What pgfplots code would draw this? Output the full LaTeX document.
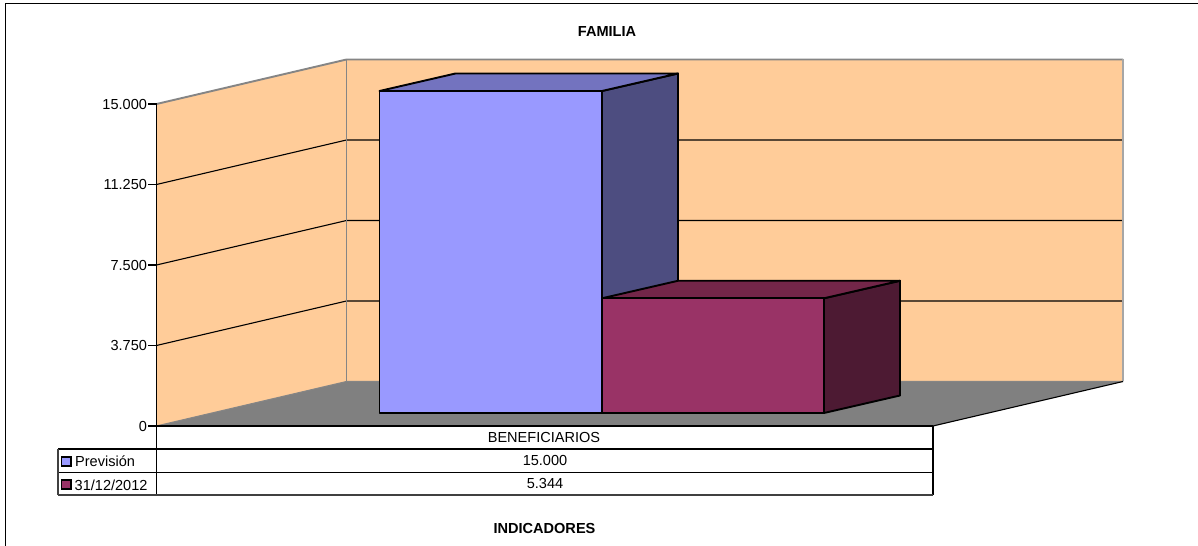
\documentclass[border=0pt]{standalone}
\usepackage{fontspec}
\setmainfont{Liberation Sans}
\usepackage{pgfplots}
\pgfplotsset{compat=1.18}
\definecolor{wall}{HTML}{FFCC99}
\definecolor{floorc}{HTML}{808080}
\definecolor{edgec}{HTML}{858585}
\definecolor{blueF}{HTML}{9999FF}
\definecolor{blueT}{HTML}{7373BF}
\definecolor{blueS}{HTML}{4D4D80}
\definecolor{marF}{HTML}{993366}
\definecolor{marT}{HTML}{732649}
\definecolor{marS}{HTML}{4D1A33}
% 1 px = 46.584 value units; bars stand 13 px in front of the axis plane line,
% depth d=1 moves 76 px right and 17.5 px up
\pgfplotsset{
  table/oblique/.style={
    x expr=\thisrow{x}+76*\thisrow{d},
    y expr=\thisrow{v}+(13+17.5*\thisrow{d})*46.584},
}
\tikzset{
  bar/.style={draw=black,line width=1.9bp,line join=round},
  fnt/.style={font=\fontsize{14.6}{16}\selectfont},
}
\newcommand{\px}[2]{({#1*1bp},{(546-#2)*1bp})}
\begin{document}
\begin{tikzpicture}
\useasboundingbox (0,0) rectangle (1198bp,546bp);
\begin{axis}[
  at={(0,0)},anchor=south west,
  scale only axis,width=1198bp,height=546bp,
  xmin=0,xmax=1198,
  ymin=-5590.1,ymax=19844.8,
  hide axis,clip=false]
% left wall, back wall, floor
\addplot[fill=wall,draw=none] coordinates {(156.5,0)(346.5,2073)(346.5,17073)(156.5,15000)} --cycle;
\addplot[fill=wall,draw=none] coordinates {(346.5,2073)(1123,2073)(1123,17073)(346.5,17073)} --cycle;
\addplot[fill=floorc,draw=none] coordinates {(156.5,0)(346.5,2073)(1123,2073)(933,0)} --cycle;
% gridlines
\addplot[black,line width=1.1bp] coordinates {(156.5,3750)(346.5,5823)(1123,5823)};
\addplot[black,line width=1.1bp] coordinates {(156.5,7500)(346.5,9573)(1123,9573)};
\addplot[black,line width=1.1bp] coordinates {(156.5,11250)(346.5,13323)(1123,13323)};
% wall edges
\addplot[edgec,line width=1.9bp] coordinates {(156.5,15000)(346.5,17073)(1123,17073)};
\addplot[edgec,line width=1.9bp] coordinates {(346.5,17073)(346.5,2073)};
\addplot[edgec,line width=1.1bp] coordinates {(156.5,0)(346.5,2073)(1123,2073)};
\addplot[gray!70,line width=1.9bp] coordinates {(1123,17073)(1123,2073)};
\addplot[black,line width=1.1bp] coordinates {(933,0)(1123,2073)};
% bar Prevision = 15000
\addplot[bar,fill=blueS] table[oblique] {
x d v
602 0 0
602 1 0
602 1 15000
602 0 15000
} --cycle;
\addplot[bar,fill=blueT] table[oblique] {
x d v
379.5 0 15000
602 0 15000
602 1 15000
379.5 1 15000
} --cycle;
\addplot[bar,fill=blueF] table[oblique] {
x d v
379.5 0 0
602 0 0
602 0 15000
379.5 0 15000
} --cycle;
% bar 31/12/2012 = 5344
\addplot[bar,fill=marS] table[oblique] {
x d v
824 0 0
824 1 0
824 1 5344
824 0 5344
} --cycle;
\addplot[bar,fill=marT] table[oblique] {
x d v
602 0 5344
824 0 5344
824 1 5344
602 1 5344
} --cycle;
\addplot[bar,fill=marF] table[oblique] {
x d v
602 0 0
824 0 0
824 0 5344
602 0 5344
} --cycle;
\end{axis}
% value axis with its ticks
\begin{axis}[
  at={(156.5bp,120bp)},anchor=south west,
  scale only axis,width=776.5bp,height=322bp,
  xmin=0,xmax=1,ymin=0,ymax=15000,
  axis y line=left,axis line style={-,black,line width=1.2bp},
  hide x axis,
  ytick={0,3750,7500,11250,15000},
  tick align=outside,
  major tick length=8bp,
  tick style={black,line width=1.1bp},
  yticklabel style={fnt,xshift=2bp},
  /pgf/number format/fixed,
  /pgf/number format/1000 sep={.},
  /pgf/number format/assume math mode=true,
  scaled y ticks=false,
]
\end{axis}
% frame
\draw[black,line width=1.2bp] \px{5.5}{546} -- \px{5.5}{3.5} -- \px{1198}{3.5};
% data table
\draw[black,line width=1.2bp] \px{156.5}{426} -- \px{156.5}{495};
\draw[black,line width=1.9bp] \px{156.5}{426} -- \px{933}{426};
\draw[black,line width=1.1bp] \px{933}{426} -- \px{933}{495};
\draw[black,line width=1.1bp] \px{58}{449} -- \px{933}{449};
\draw[black,line width=1.1bp] \px{58}{472.3} -- \px{933}{472.3};
\draw[black!75,line width=1.2bp] \px{58}{495} -- \px{933}{495};
\draw[black!75,line width=1.2bp] \px{58}{449} -- \px{58}{495};
% legend keys
\draw[black,line width=1.2bp,fill=blueF] \px{61.5}{457} rectangle \px{71}{466};
\draw[black,line width=1.2bp,fill=marF] \px{61.5}{480} rectangle \px{71}{489};
% texts
\node[fnt,inner sep=0,anchor=base] at \px{607}{37} {\textbf{FAMILIA}};
\node[fnt,inner sep=0,anchor=base] at \px{544.5}{533} {\textbf{INDICADORES}};
\node[fnt,inner sep=0,anchor=base] at \px{544}{442} {BENEFICIARIOS};
\node[fnt,inner sep=0,anchor=base] at \px{545}{465.5} {15.000};
\node[fnt,inner sep=0,anchor=base] at \px{545}{488.5} {5.344};
\node[fnt,inner sep=0,anchor=base west] at \px{75}{466.5} {Previsión};
\node[fnt,inner sep=0,anchor=base west] at \px{74.5}{490} {31/12/2012};
\end{tikzpicture}
\end{document}
